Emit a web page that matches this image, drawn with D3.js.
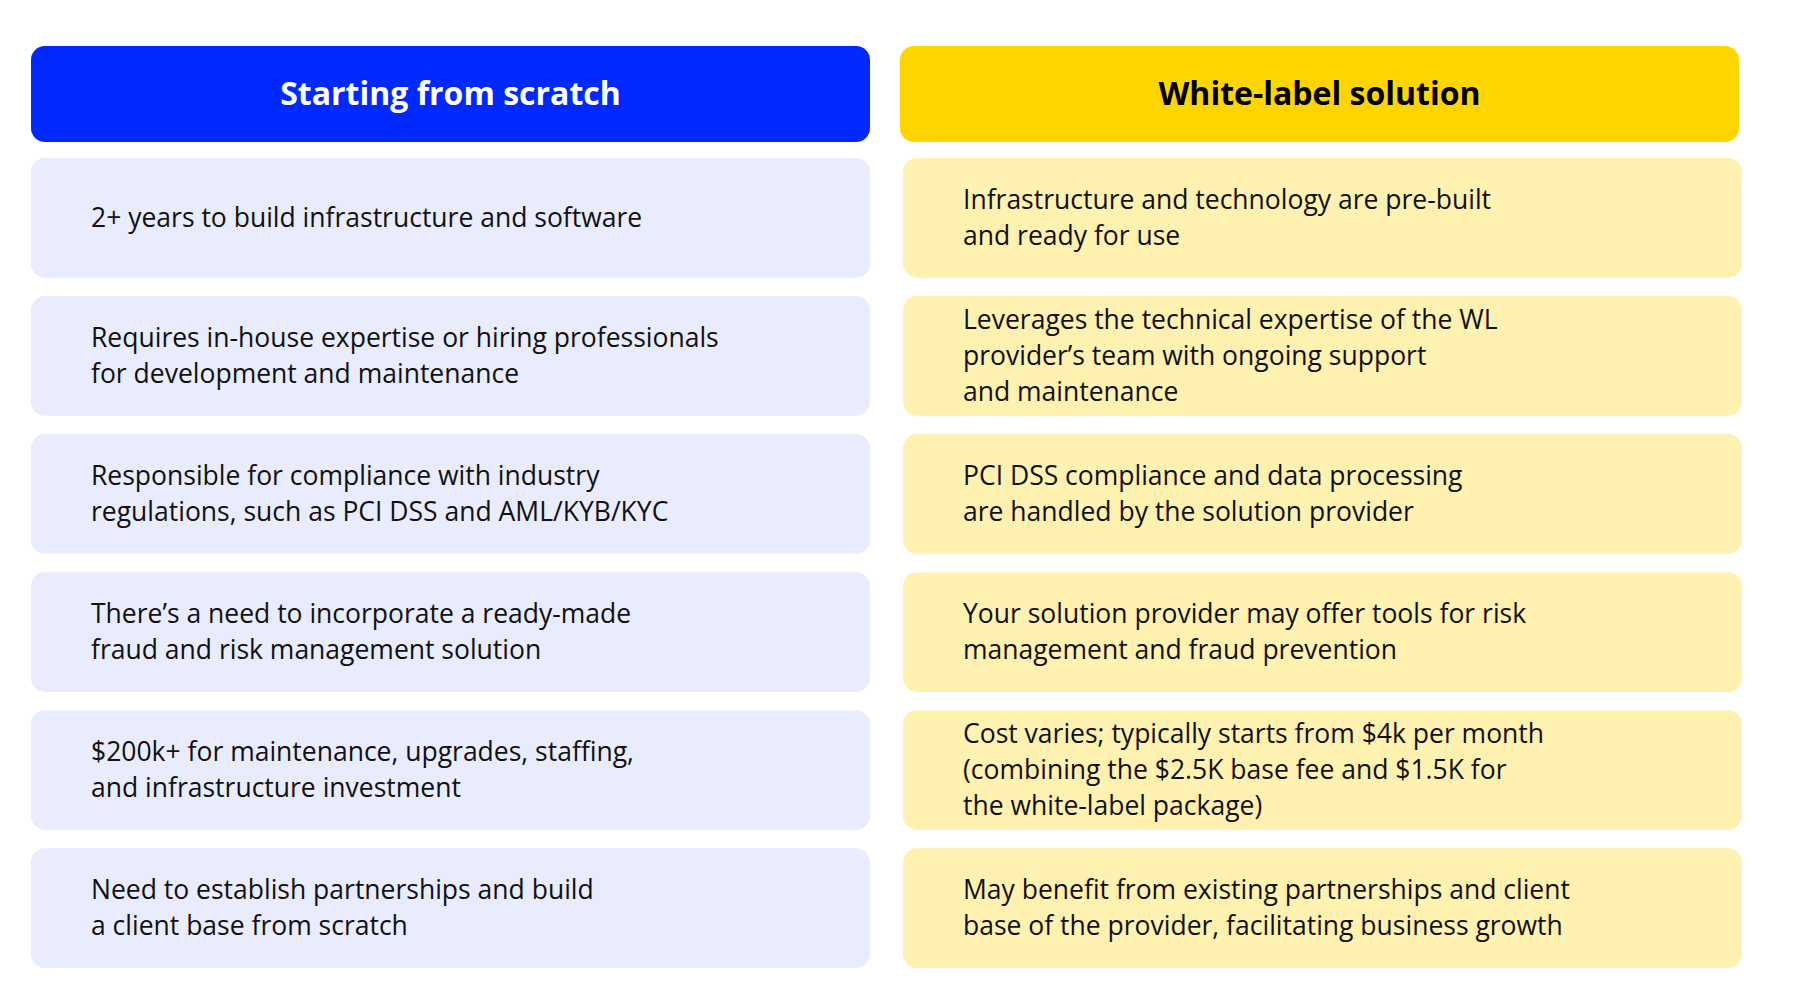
<!DOCTYPE html>
<html><head><meta charset="utf-8">
<script src="https://cdn.jsdelivr.net/npm/d3@7"></script>
<style>body{margin:0;background:#fff}</style></head>
<body><svg id="c" width="1800" height="998"></svg>
<script>
const headers = ["Starting from scratch", "White-label solution"];
const leftItems = [
 ["2+ years to build infrastructure and software"],
 ["Requires in-house expertise or hiring professionals","for development and maintenance"],
 ["Responsible for compliance with industry","regulations, such as PCI DSS and AML/KYB/KYC"],
 ["There’s a need to incorporate a ready-made","fraud and risk management solution"],
 ["$200k+  for maintenance, upgrades, staffing,","and infrastructure investment"],
 ["Need to establish partnerships and build","a client base from scratch"]
];
const rightItems = [
 ["Infrastructure and technology are pre-built","and ready for use"],
 ["Leverages the technical expertise of the WL","provider’s team with ongoing support","and maintenance"],
 ["PCI DSS compliance and data processing","are handled by the solution provider"],
 ["Your solution provider may offer tools for risk","management and fraud prevention"],
 ["Cost varies; typically starts from $4k per month","(combining the $2.5K base fee and $1.5K for","the white-label package)"],
 ["May benefit from existing partnerships and client","base of the provider, facilitating business growth"]
];
const svg = d3.select("#c");
const font = "'Open Sans', Lato, sans-serif";
const cols = [{x:31,w:839,hc:"#0029FF",tc:"#fff",bg:"#E8ECFD",items:leftItems,tx:91},
              {x:900,w:839,hc:"#FFD500",tc:"#000",bg:"#FFF1B0",items:rightItems,tx:963}];
const y = d3.scaleBand().domain(d3.range(6)).range([158, 950+18]).paddingInner(0.133).paddingOuter(0);
cols.forEach((c,i)=>{
  svg.append("rect").attr("x",c.x).attr("y",46).attr("width",c.w).attr("height",96).attr("rx",14).attr("fill",c.hc);
  svg.append("text").attr("x",c.x+c.w/2).attr("y",94).attr("dy","0.35em").attr("text-anchor","middle")
    .attr("font-family",font).attr("font-weight",700).attr("font-size",32).attr("fill",c.tc).text(headers[i]);
  c.items.forEach((lines,j)=>{
    const y0=y(j), h=y.bandwidth();
    svg.append("rect").attr("x",c.x+(i?3:0)).attr("y",y0).attr("width",c.w).attr("height",h).attr("rx",14).attr("fill",c.bg);
    const lh=36, cy=y0+h/2-(lines.length-1)*lh/2;
    const t=svg.append("text").attr("font-family",font).attr("font-size",26.5).attr("fill","#111");
    lines.forEach((l,k)=>t.append("tspan").attr("x",c.tx).attr("y",cy+k*lh).attr("dy","0.35em").text(l));
  });
});
</script></body></html>
